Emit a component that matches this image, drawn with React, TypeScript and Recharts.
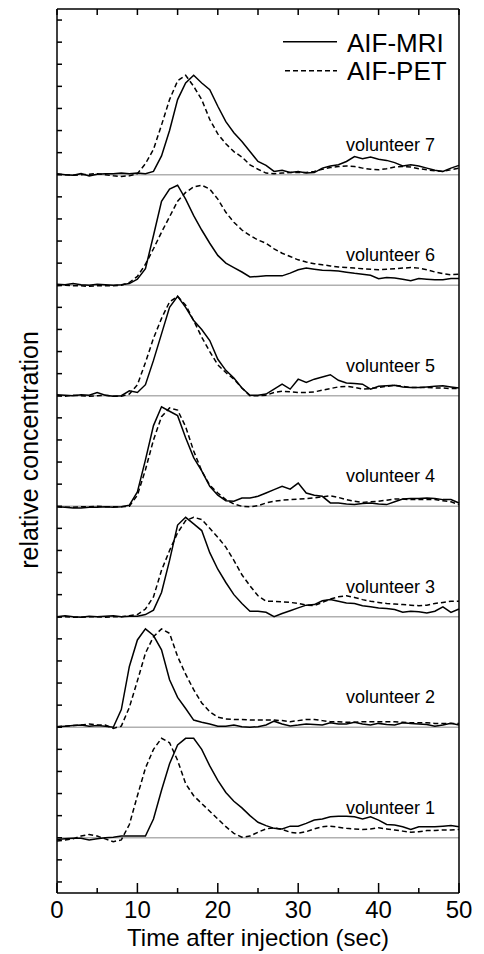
import { LineChart, Line, XAxis, YAxis, ReferenceLine, Legend } from 'recharts';

// time after injection (sec)
const time = [
  0, 1, 2, 3, 4, 5, 6, 7, 8, 9, 10, 11, 12, 13, 14, 15, 16, 17, 18, 19, 20, 21, 22, 23, 24, 25,
  26, 27, 28, 29, 30, 31, 32, 33, 34, 35, 36, 37, 38, 39, 40, 41, 42, 43, 44, 45, 46, 47, 48, 49, 50,
];

// relative concentration, each volunteer on its own baseline
const mri1 = [-0.015, -0.01, -0.005, -0.005, -0.02, -0.01, 0.0, 0.005, 0.015, 0.015, 0.015, 0.015, 0.17, 0.43, 0.67, 0.84, 0.9, 0.9, 0.8, 0.65, 0.52, 0.41, 0.33, 0.27, 0.2, 0.14, 0.11, 0.085, 0.08, 0.105, 0.105, 0.13, 0.16, 0.17, 0.19, 0.195, 0.195, 0.19, 0.17, 0.19, 0.16, 0.12, 0.115, 0.1, 0.075, 0.1, 0.1, 0.1, 0.105, 0.11, 0.1];
const pet1 = [-0.03, -0.02, -0.01, 0.015, 0.03, 0.015, -0.01, -0.035, -0.02, 0.12, 0.38, 0.63, 0.8, 0.9, 0.86, 0.7, 0.49, 0.38, 0.31, 0.24, 0.17, 0.1, 0.04, 0.005, 0.015, 0.05, 0.08, 0.09, 0.075, 0.05, 0.04, 0.055, 0.08, 0.1, 0.105, 0.095, 0.085, 0.08, 0.075, 0.08, 0.09, 0.08, 0.07, 0.06, 0.05, 0.055, 0.065, 0.065, 0.07, 0.07, 0.075];
const mri2 = [0.005, 0.01, 0.015, 0.02, 0.01, 0.015, 0.01, 0.0, 0.16, 0.55, 0.79, 0.89, 0.83, 0.7, 0.43, 0.27, 0.17, 0.065, 0.045, 0.03, 0.01, 0.01, 0.02, 0.005, 0.0, 0.005, 0.02, 0.055, 0.03, 0.012, 0.02, 0.03, 0.025, 0.02, 0.04, 0.03, 0.03, 0.045, 0.03, 0.02, 0.035, 0.025, 0.02, 0.04, 0.035, 0.03, 0.025, 0.01, 0.02, 0.035, 0.02];
const pet2 = [0.005, 0.01, 0.015, 0.02, 0.03, 0.02, 0.02, -0.01, 0.01, 0.18, 0.42, 0.67, 0.82, 0.89, 0.85, 0.64, 0.48, 0.34, 0.22, 0.14, 0.09, 0.075, 0.07, 0.07, 0.065, 0.065, 0.065, 0.065, 0.06, 0.05, 0.06, 0.07, 0.07, 0.06, 0.05, 0.05, 0.045, 0.045, 0.05, 0.05, 0.05, 0.05, 0.05, 0.045, 0.04, 0.04, 0.04, 0.035, 0.035, 0.035, 0.035];
const mri3 = [0.0, 0.01, 0.0, -0.005, 0.005, 0.0, 0.005, 0.01, 0.0, 0.005, 0.005, 0.02, 0.06, 0.22, 0.51, 0.83, 0.9, 0.84, 0.78, 0.58, 0.43, 0.31, 0.2, 0.12, 0.05, 0.05, 0.04, 0.0, 0.03, 0.055, 0.08, 0.105, 0.11, 0.145, 0.155, 0.14, 0.125, 0.12, 0.1, 0.09, 0.08, 0.075, 0.065, 0.04, 0.05, 0.045, 0.035, 0.05, 0.09, 0.04, 0.07];
const pet3 = [-0.005, 0.0, -0.005, -0.005, 0.0, 0.0, -0.005, 0.0, 0.0, 0.01, 0.02, 0.07, 0.18, 0.42, 0.6, 0.76, 0.87, 0.9, 0.88, 0.8, 0.72, 0.63, 0.51, 0.38, 0.28, 0.19, 0.14, 0.14, 0.135, 0.13, 0.12, 0.105, 0.1, 0.13, 0.16, 0.18, 0.19, 0.175, 0.155, 0.14, 0.13, 0.12, 0.115, 0.11, 0.105, 0.1, 0.105, 0.12, 0.13, 0.14, 0.14];
const mri4 = [-0.005, -0.01, -0.015, -0.015, -0.01, -0.01, -0.005, -0.01, -0.005, 0.01, 0.13, 0.42, 0.73, 0.9, 0.86, 0.82, 0.62, 0.44, 0.32, 0.18, 0.1, 0.05, 0.045, 0.075, 0.075, 0.09, 0.12, 0.15, 0.18, 0.155, 0.21, 0.12, 0.1, 0.09, 0.03, 0.03, 0.02, 0.015, 0.025, 0.03, 0.02, 0.015, 0.04, 0.065, 0.07, 0.07, 0.075, 0.07, 0.06, 0.06, 0.03];
const pet4 = [-0.005, -0.01, -0.01, -0.005, -0.005, 0.0, -0.005, -0.005, -0.005, 0.0, 0.1, 0.33, 0.6, 0.81, 0.89, 0.87, 0.72, 0.5, 0.32, 0.19, 0.12, 0.06, 0.02, 0.0, -0.005, 0.005, 0.03, 0.045, 0.055, 0.06, 0.065, 0.07, 0.075, 0.085, 0.095, 0.08, 0.06, 0.045, 0.035, 0.04, 0.045, 0.055, 0.065, 0.065, 0.06, 0.06, 0.06, 0.06, 0.05, 0.04, 0.015];
const mri5 = [0.01, 0.005, 0.0, 0.01, 0.005, 0.03, 0.005, -0.005, 0.0, 0.045, 0.03, 0.1, 0.32, 0.56, 0.8, 0.9, 0.8, 0.68, 0.6, 0.5, 0.33, 0.23, 0.16, 0.07, 0.005, 0.005, 0.015, 0.06, 0.105, 0.06, 0.15, 0.12, 0.15, 0.17, 0.19, 0.14, 0.115, 0.11, 0.105, 0.06, 0.085, 0.09, 0.095, 0.08, 0.075, 0.075, 0.08, 0.085, 0.09, 0.08, 0.07];
const pet5 = [0.0, -0.005, 0.005, 0.0, -0.005, 0.0, 0.005, -0.005, -0.005, 0.015, 0.1, 0.3, 0.52, 0.7, 0.85, 0.9, 0.82, 0.68, 0.53, 0.4, 0.28, 0.21, 0.15, 0.07, 0.0, 0.0, 0.005, 0.03, 0.04, 0.035, 0.03, 0.03, 0.035, 0.05, 0.065, 0.08, 0.085, 0.075, 0.06, 0.065, 0.075, 0.085, 0.095, 0.085, 0.075, 0.075, 0.075, 0.07, 0.07, 0.065, 0.065];
const mri6 = [0.01, 0.005, 0.015, 0.005, 0.0, 0.01, 0.005, 0.0, 0.005, 0.015, 0.055, 0.15, 0.45, 0.76, 0.87, 0.905, 0.78, 0.63, 0.5, 0.38, 0.27, 0.2, 0.16, 0.12, 0.075, 0.08, 0.085, 0.085, 0.085, 0.11, 0.14, 0.155, 0.145, 0.135, 0.133, 0.128, 0.118, 0.108, 0.1, 0.09, 0.06, 0.07, 0.065, 0.055, 0.04, 0.06, 0.055, 0.05, 0.05, 0.06, 0.06];
const pet6 = [-0.005, 0.0, -0.005, -0.005, -0.01, -0.005, -0.005, -0.005, 0.0, 0.025, 0.08, 0.19, 0.33, 0.48, 0.62, 0.76, 0.84, 0.89, 0.905, 0.87, 0.78, 0.66, 0.57, 0.5, 0.45, 0.41, 0.38, 0.33, 0.29, 0.26, 0.23, 0.21, 0.195, 0.185, 0.175, 0.165, 0.16, 0.155, 0.15, 0.145, 0.14, 0.145, 0.15, 0.155, 0.16, 0.155, 0.14, 0.12, 0.105, 0.095, 0.1];
const mri7 = [0.01, 0.0, -0.005, 0.01, -0.01, 0.005, 0.01, 0.01, 0.015, 0.01, 0.015, 0.01, 0.03, 0.17, 0.4, 0.68, 0.83, 0.9, 0.83, 0.77, 0.62, 0.48, 0.38, 0.3, 0.21, 0.12, 0.085, 0.03, 0.04, 0.02, 0.03, 0.015, 0.02, 0.06, 0.08, 0.09, 0.12, 0.165, 0.145, 0.16, 0.14, 0.13, 0.11, 0.08, 0.09, 0.08, 0.06, 0.04, 0.03, 0.06, 0.085];
const pet7 = [0.005, 0.0, -0.005, 0.0, 0.005, 0.01, 0.0, -0.01, -0.015, -0.01, 0.01, 0.1, 0.23, 0.45, 0.68, 0.85, 0.9, 0.8, 0.68, 0.5, 0.37, 0.28, 0.21, 0.16, 0.09, 0.05, 0.015, 0.01, 0.015, 0.02, 0.02, 0.02, 0.03, 0.05, 0.065, 0.075, 0.08, 0.075, 0.06, 0.05, 0.045, 0.055, 0.07, 0.075, 0.07, 0.055, 0.045, 0.035, 0.03, 0.045, 0.06];

const volunteers = [
  { id: 1, mri: mri1, pet: pet1 },
  { id: 2, mri: mri2, pet: pet2 },
  { id: 3, mri: mri3, pet: pet3 },
  { id: 4, mri: mri4, pet: pet4 },
  { id: 5, mri: mri5, pet: pet5 },
  { id: 6, mri: mri6, pet: pet6 },
  { id: 7, mri: mri7, pet: pet7 },
];

const xTicks = [0, 5, 10, 15, 20, 25, 30, 35, 40, 45, 50];
const yTicks = Array.from({ length: 40 }, (_, i) => Math.round((-0.4 + i * 0.2) * 10) / 10);

// stack: volunteer n sits on baseline n - 1
const rows = time.map((t, i) => {
  const row: Record<string, number> = { t };
  volunteers.forEach((v) => {
    row['m' + v.id] = v.id - 1 + v.mri[i];
    row['p' + v.id] = v.id - 1 + v.pet[i];
  });
  return row;
});

const FONT = '"Liberation Sans", Arial, Helvetica, sans-serif';
const DASH = '5 3';

// plot box in page pixels
const PLOT = { left: 57, right: 459, top: 9, bottom: 893 };

const BottomTick = ({ x, payload }: any) => {
  const major = payload.value % 10 === 0;
  const y = PLOT.bottom;
  return (
    <g>
      <line x1={x} x2={x} y1={y} y2={y - (major ? 10 : 5)} stroke="#000" strokeWidth={1.5} />
      {major && (
        <text x={x} y={y + 25} textAnchor="middle" fontSize={24} fill="#000" fontFamily={FONT}>
          {payload.value}
        </text>
      )}
    </g>
  );
};

const TopTick = ({ x }: any) => (
  <line x1={x} x2={x} y1={PLOT.top} y2={PLOT.top + 6} stroke="#000" strokeWidth={1.5} />
);

const LeftTick = ({ y }: any) => (
  <line x1={PLOT.left} x2={PLOT.left + 5} y1={y} y2={y} stroke="#000" strokeWidth={1.5} />
);

const RightTick = ({ y }: any) => (
  <line x1={PLOT.right} x2={PLOT.right - 5} y1={y} y2={y} stroke="#000" strokeWidth={1.5} />
);

const renderLegend = () => (
  <svg width={200} height={64} style={{ display: 'block', overflow: 'visible' }}>
    <line x1={3} x2={57} y1={21.7} y2={21.7} stroke="#000" strokeWidth={1.5} />
    <text x={67} y={32} fontSize={26} fill="#000" fontFamily={FONT}>AIF-MRI</text>
    <line x1={5} x2={57} y1={50.7} y2={50.7} stroke="#000" strokeWidth={1.5} strokeDasharray={DASH} />
    <text x={67} y={60} fontSize={26} fill="#000" fontFamily={FONT}>AIF-PET</text>
  </svg>
);

const YTitle = () => (
  <text
    x={38}
    y={450}
    transform="rotate(-90 38 450)"
    textAnchor="middle"
    fontSize={25}
    fill="#000"
    fontFamily={FONT}
  >
    relative concentration
  </text>
);

const axisLine = { stroke: '#000', strokeWidth: 1.5 };

export default function App() {
  return (
    <div style={{ position: 'absolute', left: 0, top: 0, width: 484, height: 954, background: '#fff', fontFamily: FONT }}>
      <LineChart
        width={484}
        height={954}
        data={rows}
        margin={{ top: PLOT.top - 1, right: 484 - PLOT.right - 1, bottom: 954 - PLOT.bottom - 1, left: PLOT.left - 1 }}
      >
        <XAxis
          xAxisId="b"
          dataKey="t"
          type="number"
          domain={[0, 50]}
          ticks={xTicks}
          interval={0}
          height={1}
          tickSize={0}
          tickMargin={0}
          tickLine={false}
          tick={BottomTick}
          axisLine={axisLine}
          label={{ value: 'Time after injection (sec)', position: 'bottom', offset: 35, fontSize: 24, fill: '#000' }}
        />
        <XAxis
          xAxisId="top"
          orientation="top"
          dataKey="t"
          type="number"
          domain={[0, 50]}
          ticks={xTicks}
          interval={0}
          height={1}
          tickSize={0}
          tickMargin={0}
          tickLine={false}
          tick={TopTick}
          axisLine={axisLine}
        />
        <YAxis
          yAxisId="l"
          type="number"
          domain={[-0.5, 7.5]}
          ticks={yTicks}
          interval={0}
          width={1}
          tickSize={0}
          tickMargin={0}
          tickLine={false}
          tick={LeftTick}
          axisLine={axisLine}
          label={{ content: YTitle }}
        />
        <YAxis
          yAxisId="r"
          orientation="right"
          type="number"
          domain={[-0.5, 7.5]}
          ticks={yTicks}
          interval={0}
          width={1}
          tickSize={0}
          tickMargin={0}
          tickLine={false}
          tick={RightTick}
          axisLine={axisLine}
        />
        {volunteers.map((v) => (
          <ReferenceLine
            key={'base' + v.id}
            xAxisId="b"
            yAxisId="l"
            y={v.id - 1}
            stroke="#b0b0b0"
            strokeWidth={1.5}
            label={{
              value: 'volunteer ' + v.id,
              position: 'insideBottomRight',
              offset: 24,
              fontSize: 18,
              fill: '#000',
            }}
          />
        ))}
        {volunteers.map((v) => (
          <Line
            key={'pet' + v.id}
            xAxisId="b"
            yAxisId="l"
            type="linear"
            dataKey={'p' + v.id}
            stroke="#000"
            strokeWidth={1.5}
            strokeDasharray={DASH}
            dot={false}
            activeDot={false}
            isAnimationActive={false}
          />
        ))}
        {volunteers.map((v) => (
          <Line
            key={'mri' + v.id}
            xAxisId="b"
            yAxisId="l"
            type="linear"
            dataKey={'m' + v.id}
            stroke="#000"
            strokeWidth={1.5}
            dot={false}
            activeDot={false}
            isAnimationActive={false}
          />
        ))}
        <Legend
          layout="horizontal"
          verticalAlign="middle"
          align="center"
          wrapperStyle={{ left: 280, top: 20, width: 200, height: 64 }}
          content={renderLegend}
        />
      </LineChart>
    </div>
  );
}
